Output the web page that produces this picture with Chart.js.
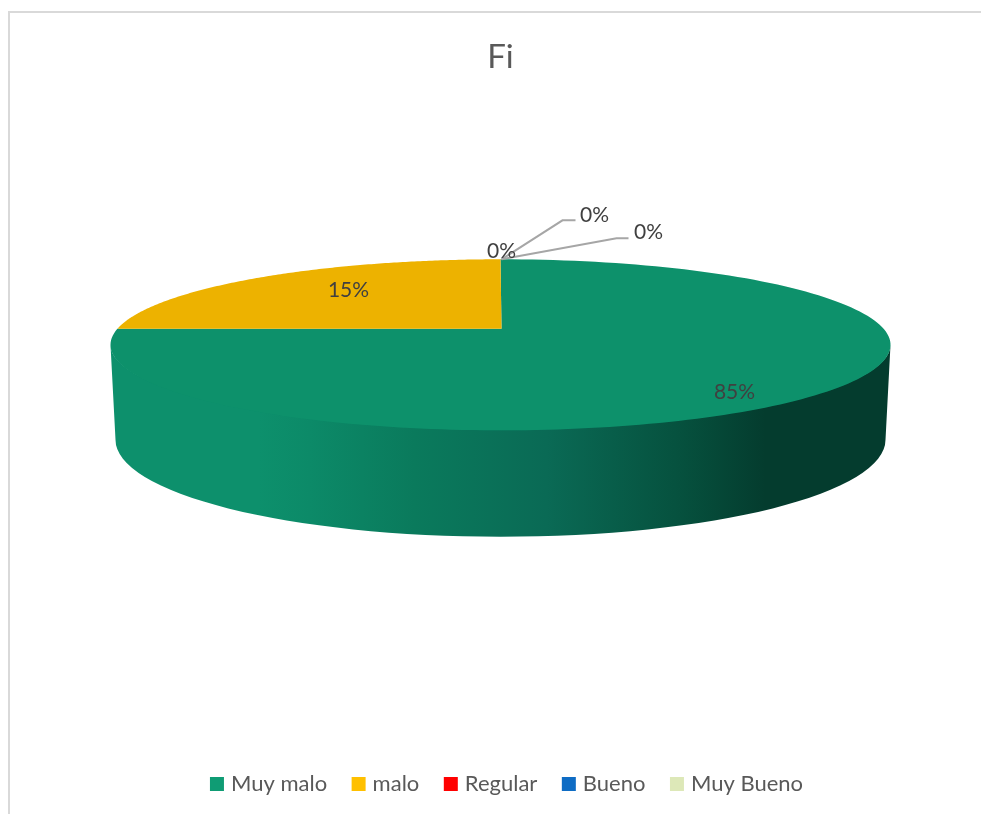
<!DOCTYPE html>
<html>
<head>
<meta charset="utf-8">
<title>Fi</title>
<script src="https://cdn.jsdelivr.net/npm/chart.js@4"></script>
<style>
  body { margin: 0; background: #fff; }
  #frame { position: absolute; left: 8px; top: 11px; right: 0; bottom: 0; border-left: 2px solid #d9d9d9; border-top: 2px solid #d9d9d9; }
  canvas { position: absolute; left: 0; top: 0; }
</style>
</head>
<body>
<div id="frame"></div>
<canvas id="chart" width="981" height="814"></canvas>
<script>
const categories = ['Muy malo', 'malo', 'Regular', 'Bueno', 'Muy Bueno'];
const fiValues = [85, 15, 0, 0, 0];
const sliceColors = ['#0f9c74', '#ffc000', '#ff0000', '#0e6cc4', '#dde8b8'];

// where each percentage sits, relative to the pie's top edge
const labelOffsets = [[233, 133], [-153, 31], [0, -8], [93, -44], [147, -27]];
// leader lines for the small slices, [elbow, end] relative to the top edge
const leaders = { 3: [[61, -39], [74, -39]], 4: [[115, -21], [127, -21]] };

const TILT_TOP = 85.5 / 390;
const DEPTH = 95;
const TWO_PI = Math.PI * 2;

// the 3D view stretches the back of the pie, so the reference's slice edge
// lands on the hub's horizontal: true angle -> angle on the ellipse
function viewAngle(a) {
  const bendFrom = TWO_PI * 0.85;
  const bendTo = TWO_PI * 0.78;
  if (a <= bendFrom) return a * bendTo / bendFrom;
  return bendTo + (a - bendFrom) * (TWO_PI - bendTo) / (TWO_PI - bendFrom);
}

const pie3d = {
  id: 'pie3d',
  // the reference's legend sits a little right of the title's centre
  afterLayout(chart) {
    chart.legend.left += 8;
    chart.legend.right += 8;
  },
  beforeDatasetDraw(chart) {
    const { ctx } = chart;
    const arcs = chart.getDatasetMeta(0).data;
    const rx = arcs[0].outerRadius;
    const ry = rx * TILT_TOP;
    const cx = arcs[0].x;
    const cy = chart.height * 0.4236;
    const hubX = cx + 1;
    const hubY = cy - 16;
    const toX = (a) => cx + rx * Math.sin(a);
    const toY = (a) => cy - ry * Math.cos(a);

    // side wall, starts under the top surface so no seam shows
    const wall = ctx.createLinearGradient(cx - rx, 0, cx + rx, 0);
    wall.addColorStop(0, '#0d906c');
    wall.addColorStop(0.19, '#0d906c');
    wall.addColorStop(0.255, '#0c8a68');
    wall.addColorStop(0.39, '#0a7a5c');
    wall.addColorStop(0.56, '#0a6a55');
    wall.addColorStop(0.73, '#06513e');
    wall.addColorStop(0.84, '#043c2e');
    wall.addColorStop(1, '#043c2e');
    ctx.save();
    ctx.beginPath();
    ctx.ellipse(cx, cy, rx, ry - 2, 0, Math.PI, 0, true);
    ctx.lineTo(cx + rx - 5, cy + DEPTH);
    ctx.ellipse(cx, cy + DEPTH, rx - 5, ry + 11.5, 0, 0, Math.PI);
    ctx.closePath();
    ctx.fillStyle = wall;
    ctx.fill();

    // top surface, one path per slice
    arcs.forEach((arc, i) => {
      const start = arc.startAngle + Math.PI / 2;
      const end = arc.endAngle + Math.PI / 2;
      if (end - start < 0.001) return;
      ctx.beginPath();
      ctx.moveTo(hubX, hubY);
      for (let s = 0; s <= 180; s++) {
        const a = viewAngle(start + (end - start) * s / 180);
        ctx.lineTo(toX(a), toY(a));
      }
      ctx.closePath();
      ctx.fillStyle = sliceColors[i];
      ctx.fill();
      ctx.fillStyle = 'rgba(0,0,0,0.07)';
      ctx.fill();
    });

    // leaders and percentages
    const topX = hubX;
    const topY = cy - ry;
    ctx.strokeStyle = '#a6a6a6';
    ctx.lineWidth = 2;
    Object.keys(leaders).forEach((k) => {
      ctx.beginPath();
      ctx.moveTo(topX, topY);
      leaders[k].forEach((p) => ctx.lineTo(topX + p[0], topY + p[1]));
      ctx.stroke();
    });
    ctx.font = '21px Lato';
    ctx.fillStyle = '#404040';
    ctx.textAlign = 'center';
    ctx.textBaseline = 'middle';
    const total = fiValues.reduce((a, b) => a + b, 0);
    fiValues.forEach((v, i) => {
      const o = labelOffsets[i];
      ctx.fillText(Math.round(v / total * 100) + '%', topX + o[0], topY + o[1]);
    });
    ctx.restore();
    return false;
  }
};

new Chart(document.getElementById('chart'), {
  type: 'pie',
  data: {
    labels: categories,
    datasets: [{
      data: fiValues,
      backgroundColor: sliceColors,
      borderWidth: 0
    }]
  },
  options: {
    responsive: false,
    animation: false,
    radius: 390,
    layout: { padding: { left: 20, bottom: 9 } },
    plugins: {
      title: {
        display: true,
        text: 'Fi',
        color: '#595959',
        font: { family: 'Lato', size: 33, weight: 'normal' },
        padding: { top: 38, bottom: 8 }
      },
      legend: {
        position: 'bottom',
        labels: {
          usePointStyle: true,
          pointStyle: 'rect',
          boxWidth: 6,
          boxHeight: 14,
          padding: 28.5,
          color: '#595959',
          font: { family: 'Lato', size: 22 }
        }
      },
      tooltip: { enabled: false }
    }
  },
  plugins: [pie3d]
});
</script>
</body>
</html>
